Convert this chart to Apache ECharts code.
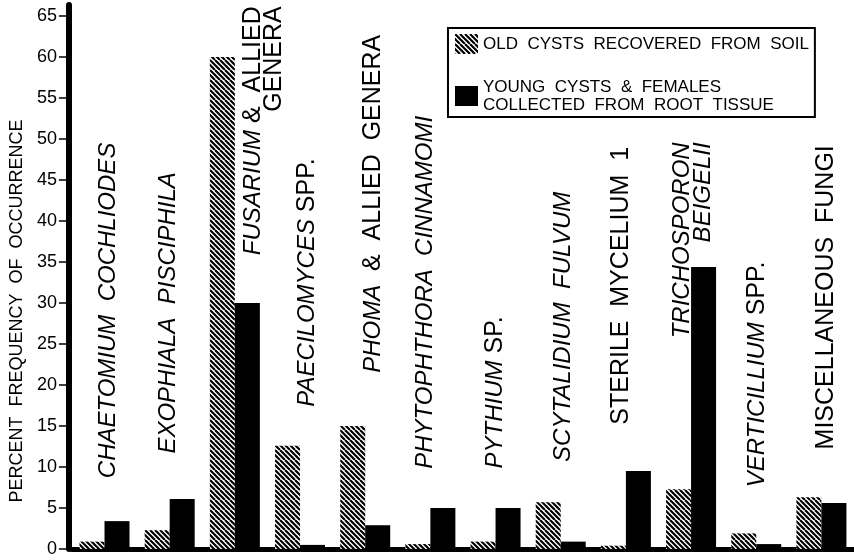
<!DOCTYPE html>
<html><head><meta charset="utf-8">
<script src="https://cdn.jsdelivr.net/npm/echarts@6/dist/echarts.min.js"></script>
<style>html,body{margin:0;padding:0;background:#fff}#c{width:854px;height:560px}</style>
</head><body><div id="c"></div>
<script>
// ---- data ----
const categories = ['Chaetomium cochliodes','Exophiala pisciphila','Fusarium & allied genera','Paecilomyces spp.','Phoma & allied genera','Phytophthora cinnamomi','Pythium sp.','Scytalidium fulvum','Sterile mycelium 1','Trichosporon beigelii','Verticillium spp.','Miscellaneous fungi'];
const categoryLabels = [
  '{i|CHAETOMIUM  COCHLIODES}',
  '{i|EXOPHIALA  PISCIPHILA}',
  '{i|FUSARIUM}{u| &  ALLIED}\n{u|GENERA}',
  '{i|PAECILOMYCES}{u| SPP.}',
  '{i|PHOMA}{u|  &  ALLIED  GENERA}',
  '{i|PHYTOPHTHORA  CINNAMOMI}',
  '{i|PYTHIUM}{u| SP.}',
  '{i|SCYTALIDIUM  FULVUM}',
  '{u|STERILE  MYCELIUM  1}',
  '{i|TRICHOSPORON}\n{i|BEIGELII}',
  '{i|VERTICILLIUM}{u| SPP.}',
  '{u|MISCELLANEOUS  FUNGI}'
];
const seriesNames = ['OLD  CYSTS  RECOVERED  FROM  SOIL', 'YOUNG  CYSTS  &  FEMALES\nCOLLECTED  FROM  ROOT  TISSUE'];
const oldCysts   = [0.9, 2.3, 60.0, 12.6, 15.0, 0.6, 0.9, 5.7, 0.4, 7.3, 1.9, 6.3];
const youngCysts = [3.4, 6.1, 30.0, 0.5, 2.9, 5.0, 5.0, 0.9, 9.5, 34.4, 0.6, 5.6];
const yTicks = [0,5,10,15,20,25,30,35,40,45,50,55,60,65];
const yName = 'PERCENT  FREQUENCY  OF  OCCURRENCE';

// ---- label layout (value-axis position of each category label, pixel shift) ----
const labelAt    = [29.1, 28.8, 66.2, 32.5, 42.1, 31.3, 19.1, 27.1, 32.1, 49.6, 21.3, 30.7];
const labelShift = [3.6, -1.8, 28.6, 7.4, 8.2, -4.9, -0.1, 2.7, -4.4, 1.4, 1.2, 5.1];

// ---- hatch pattern ----
function makeHatch() {
  const s = 10;
  const cv = document.createElement('canvas');
  cv.width = s; cv.height = s;
  const ctx = cv.getContext('2d');
  ctx.fillStyle = '#fff'; ctx.fillRect(0, 0, s, s);
  ctx.strokeStyle = '#000'; ctx.lineWidth = 2.2;
  ctx.beginPath();
  for (let k = -2 * s; k <= 2 * s; k += s / 2) {
    ctx.moveTo(k, 0); ctx.lineTo(k + s, s);
  }
  ctx.stroke();
  return cv;
}
const hatch = { image: makeHatch(), repeat: 'repeat' };

const chart = echarts.init(document.getElementById('c'), null, { renderer: 'canvas' });
const FONT = 'Liberation Sans';
chart.setOption({
  animation: false,
  backgroundColor: '#fff',
  textStyle: { fontFamily: FONT, color: '#000' },
  grid: { left: 60, right: 0, top: 5, bottom: 11, containLabel: false },
  legend: {
    data: seriesNames,
    left: 448, top: 28, orient: 'vertical',
    icon: 'rect', itemWidth: 23, itemHeight: 20, itemGap: 24,
    padding: [6, 6, 3, 7],
    borderColor: '#000', borderWidth: 2, borderRadius: 0,
    selectedMode: false,
    textStyle: { fontSize: 17, fontFamily: FONT, color: '#000', lineHeight: 18 }
  },
  xAxis: {
    type: 'category', data: categories, boundaryGap: true,
    axisLine: { show: true, lineStyle: { color: '#000', width: 5 } },
    axisTick: { show: false }, axisLabel: { show: false }, splitLine: { show: false }
  },
  yAxis: {
    type: 'value', min: 0, max: 66.35, offset: 3,
    axisLine: { show: true, lineStyle: { color: '#000', width: 6 } },
    axisTick: { show: true, length: 10, customValues: yTicks, lineStyle: { color: '#000', width: 1.5 } },
    axisLabel: { customValues: yTicks, color: '#000', fontSize: 18, fontFamily: FONT, margin: 12 },
    splitLine: { show: false },
    name: yName, nameLocation: 'middle', nameGap: 35, nameRotate: 90,
    nameTextStyle: { fontSize: 18, fontFamily: FONT, color: '#000', padding: [0, 68, 0, 0] }
  },
  series: [
    { name: seriesNames[0], type: 'bar', data: oldCysts, barWidth: 25, barGap: '0%',
      itemStyle: { color: hatch } },
    { name: seriesNames[1], type: 'bar', data: youngCysts, barWidth: 25, barGap: '0%',
      itemStyle: { color: '#000' } },
    { type: 'custom', coordinateSystem: 'cartesian2d', silent: true, z: 5, clip: false,
      data: categories.map((c, i) => [i, labelAt[i]]),
      encode: { x: 0, y: 1 },
      renderItem: function (params, api) {
        const i = api.value(0);
        const p = api.coord([i, api.value(1)]);
        const txt = categoryLabels[i];
        const multi = txt.indexOf('\n') >= 0;
        return {
          type: 'text', x: p[0] + labelShift[i], y: p[1], rotation: Math.PI / 2,
          style: {
            text: txt, x: 0, y: 0,
            align: multi ? 'right' : 'center', verticalAlign: 'middle', fill: '#000',
            rich: {
              i: { fontSize: 24, fontStyle: 'italic', fontFamily: FONT, fill: '#000', lineHeight: 21 },
              u: { fontSize: 25, fontFamily: FONT, fill: '#000', lineHeight: 21 }
            }
          }
        };
      }
    }
  ]
});
</script></body></html>
